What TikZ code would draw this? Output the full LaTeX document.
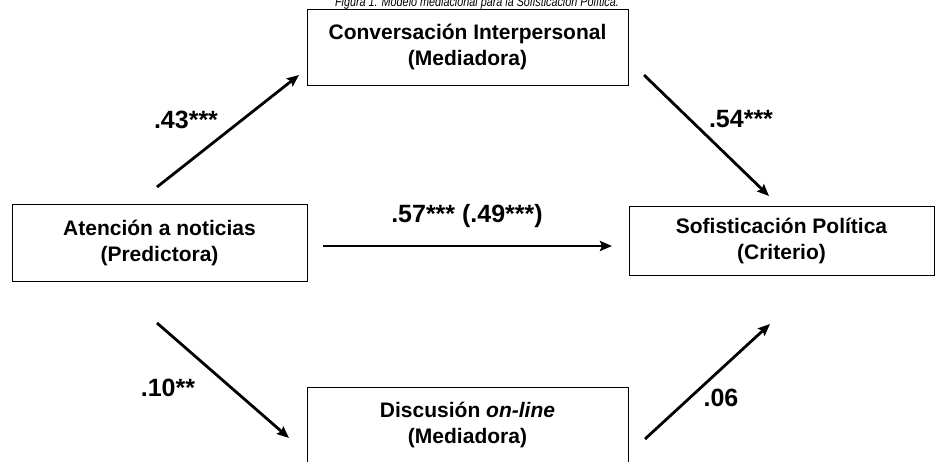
\documentclass[tikz,border=0pt]{standalone}
\usepackage{fontspec}
\usepackage{graphicx}
\setmainfont{Liberation Sans}
\usetikzlibrary{arrows.meta}
\tikzset{>={Stealth[length=12pt,width=10pt,inset=2pt]}}
\tikzset{varbox/.style={draw=black,line width=1pt,align=center,font=\bfseries\fontsize{21}{26}\selectfont},
         coef/.style={font=\bfseries\fontsize{25}{27}\selectfont,inner sep=0pt}}

\begin{document}
\begin{tikzpicture}[x=1pt,y=-1pt]
          \useasboundingbox (0,0) rectangle (935,461);

          % Title, mostly cut off at the top edge
          \node[anchor=base] (title) at (477,6) {\scalebox{0.8}[1]{\fontsize{13.5}{15}\selectfont\itshape Figura 1. Modelo mediacional para la Sofisticación Política.}};

          % Boxes
          \node[varbox, minimum width=295pt, minimum height=77pt] (pred) at (159.5,242.5) {Atención a noticias\\(Predictora)};
          \node[varbox, minimum width=321pt, minimum height=76pt] (conv) at (467.5,47) {Conversación Interpersonal\\(Mediadora)};
          \node[varbox, minimum width=305pt, minimum height=69pt] (crit) at (781.5,241) {Sofisticación Política\\(Criterio)};
          \node[varbox, minimum width=321pt, minimum height=76pt] (disc) at (467.5,425) {Discusión \textit{on-line}\\(Mediadora)};

          % Arrow ends
          \coordinate (a1) at (157,187); \coordinate (b1) at (299,75);
          \coordinate (a2) at (644,75);  \coordinate (b2) at (769,196);
          \coordinate (a3) at (323,246); \coordinate (b3) at (612,246);
          \coordinate (a4) at (157,323); \coordinate (b4) at (289,438);
          \coordinate (a5) at (645,439); \coordinate (b5) at (770,324);

            \draw[line width=2.8pt,->] (a1)--(b1); % predictor to conversation
            \draw[line width=2.8pt,->] (a2)--(b2); % conversation to criterion
            \draw[line width=2.8pt,->] (a3)--(b3); % direct effect
            \draw[line width=2.8pt,->] (a4)--(b4); % predictor to discussion
            \draw[line width=2.8pt,->] (a5)--(b5); % discussion to criterion

          % Coefficients
          \node[coef] (c1) at (186,120) {.43***};
          \node[coef] (c2) at (741,119) {.54***};
          \node[coef] (c3) at (467,216) {.57*** (.49***)};
          \node[coef] (c4) at (168,388) {.10**};
          \node[coef] (c5) at (721,398) {.06};

          \end{tikzpicture}
\end{document}
